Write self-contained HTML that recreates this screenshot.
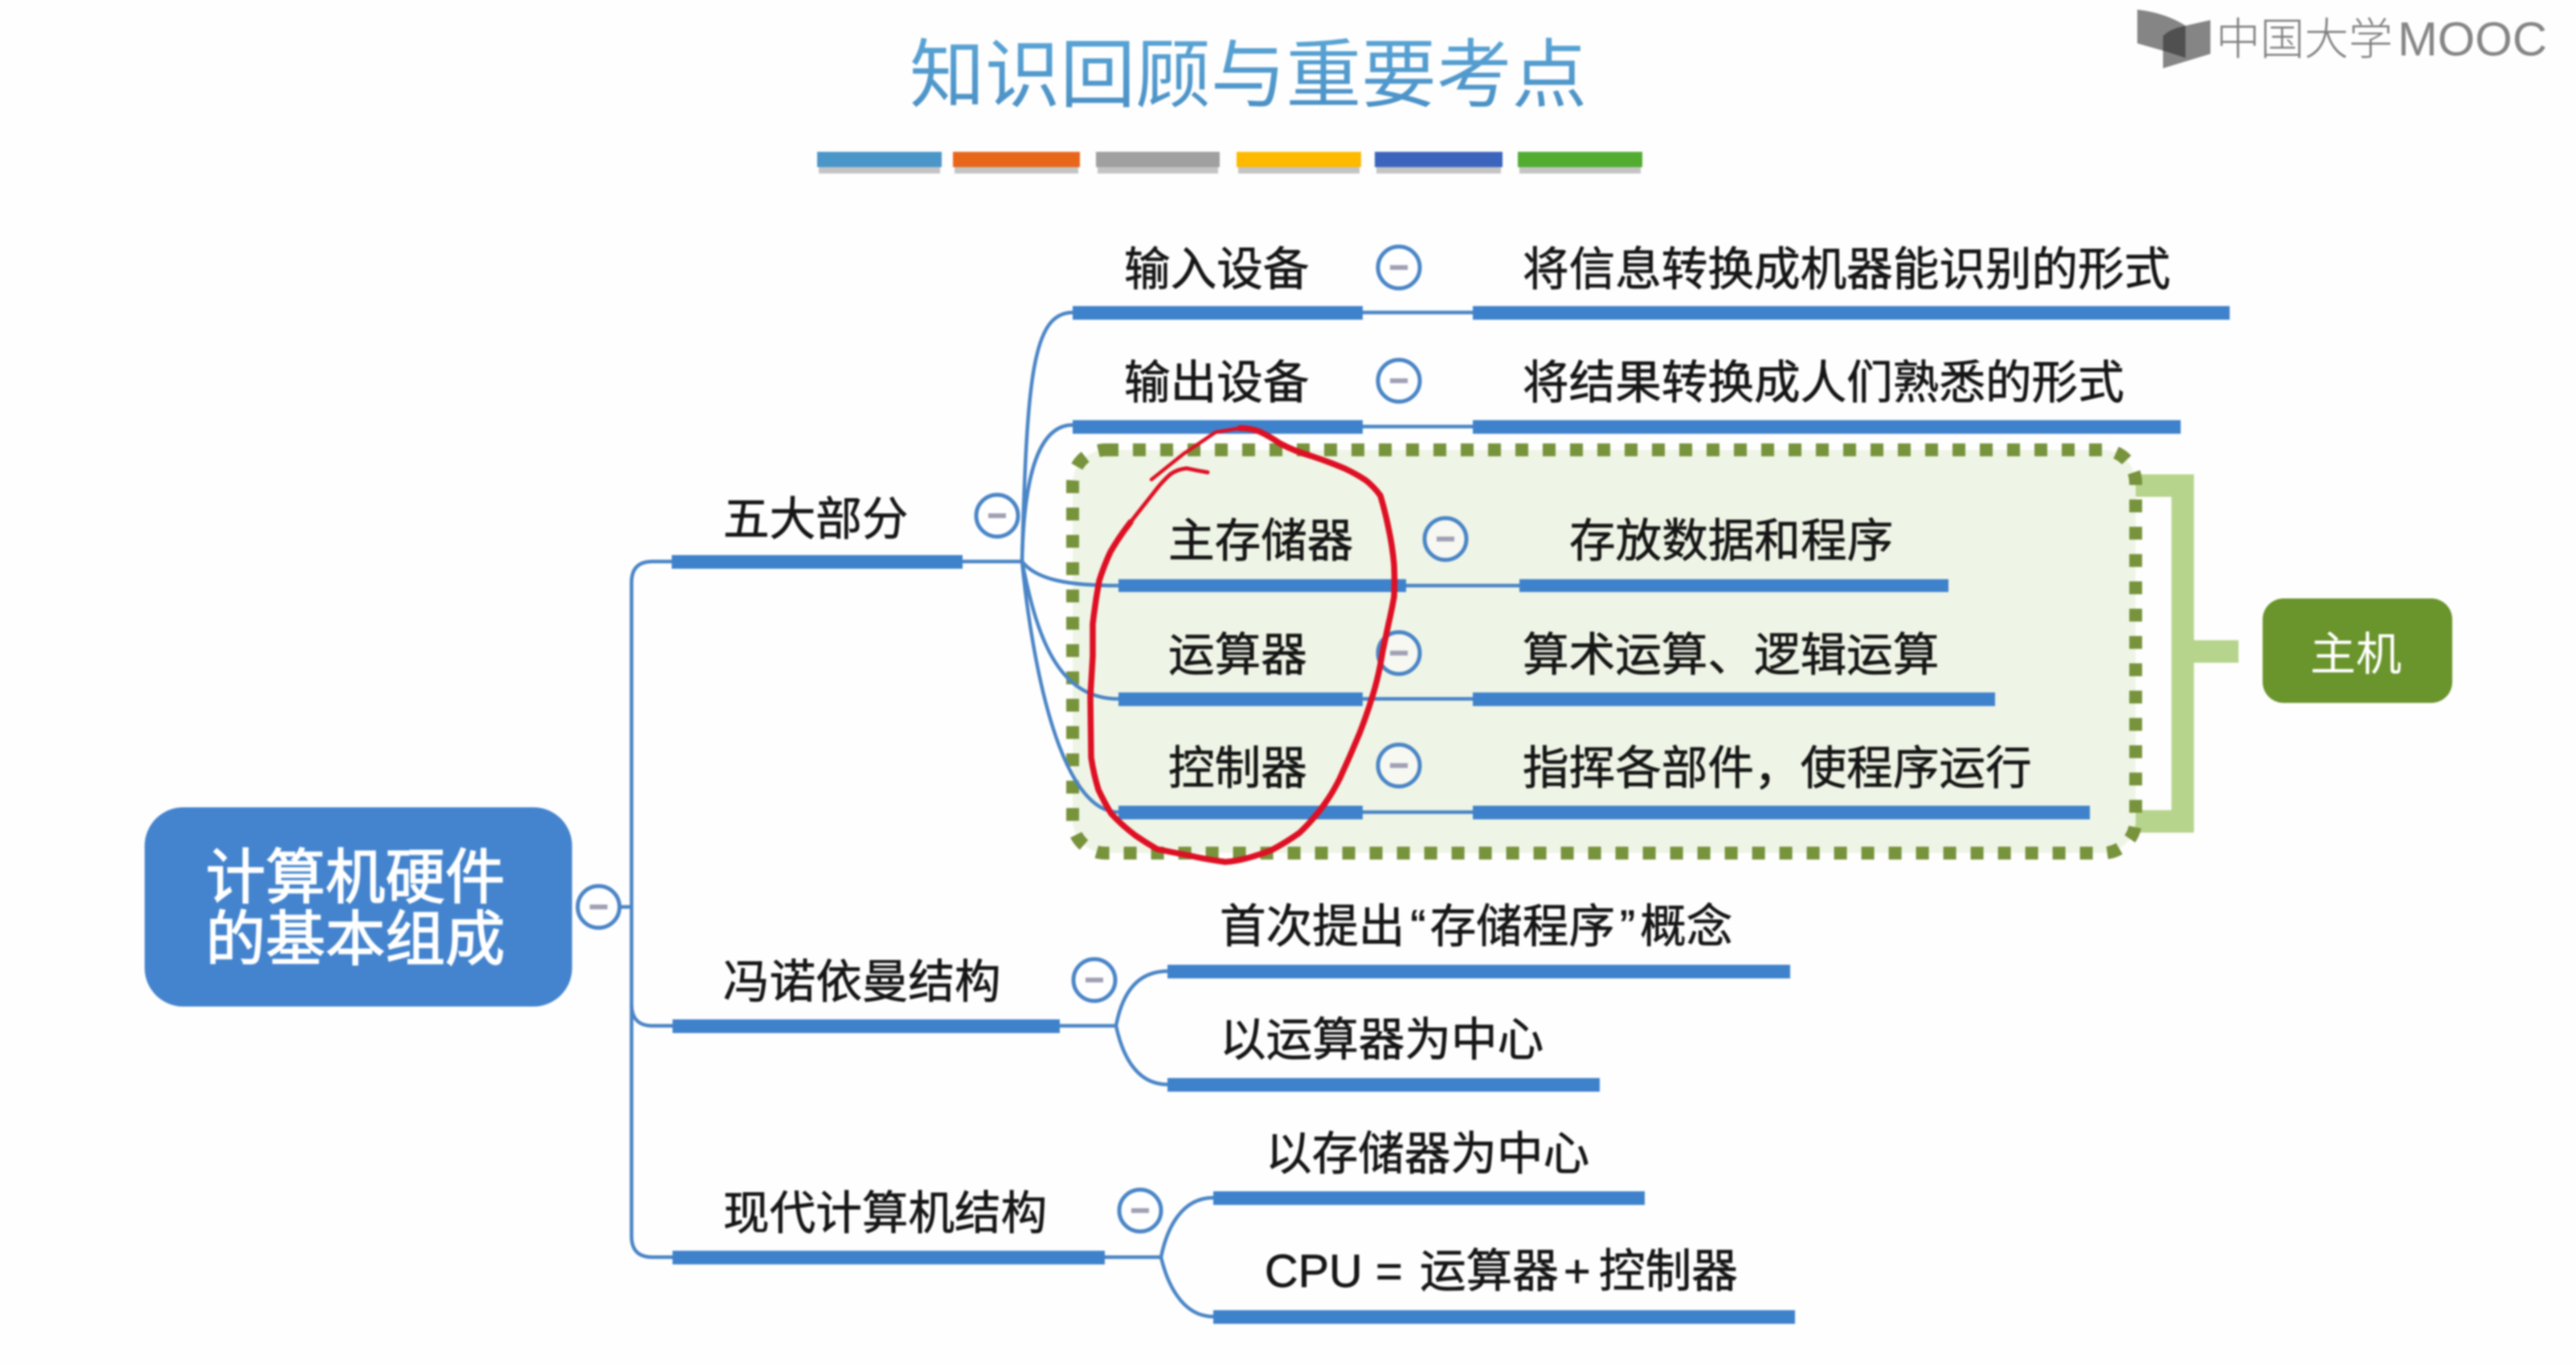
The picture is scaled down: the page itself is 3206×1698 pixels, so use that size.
<!DOCTYPE html>
<html lang="zh">
<head>
<meta charset="utf-8">
<title>知识回顾与重要考点</title>
<style>
html,body{margin:0;padding:0;background:#fefefe;width:3206px;height:1698px;overflow:hidden}
svg{display:block;filter:blur(1.1px)}
text{font-family:"Liberation Sans","Noto Sans CJK SC",sans-serif}
.t{font-size:57.6px;fill:#161616;stroke:#161616;stroke-width:.7px}
.bar{fill:#3f82cc}
.c{fill:none;stroke:#4a85c6;stroke-width:4.5}
.b{fill:#fff;stroke:#4a85c6;stroke-width:5}
.b2{fill:#f6f8f1;stroke:#4a85c6;stroke-width:5}
.m{fill:#a0a0b6}
</style>
</head>
<body>
<svg width="3206" height="1698" viewBox="0 0 3206 1698" xmlns="http://www.w3.org/2000/svg">
<defs>
<linearGradient id="tg" x1="0" y1="0" x2="0" y2="1"><stop offset="0" stop-color="#5aa5d6"/><stop offset="1" stop-color="#4a8fc4"/></linearGradient>
</defs>
<rect width="3206" height="1698" fill="#fefefe"/>

<!-- title -->
<text x="1132" y="126" font-size="93.7" fill="url(#tg)">知识回顾与重要考点</text>
<g fill="#c4c4c4">
<rect x="1019" y="204" width="151" height="12"/><rect x="1188" y="204" width="154" height="12"/><rect x="1366" y="204" width="150" height="12"/><rect x="1541" y="204" width="151" height="12"/><rect x="1713" y="204" width="155" height="12"/><rect x="1891" y="204" width="151" height="12"/>
</g>
<rect x="1017" y="189" width="155" height="19" fill="#4a96c9"/>
<rect x="1186" y="189" width="158" height="19" fill="#e8661a"/>
<rect x="1364" y="189" width="154" height="19" fill="#a0a0a0"/>
<rect x="1539" y="189" width="155" height="19" fill="#fdba00"/>
<rect x="1711" y="189" width="159" height="19" fill="#3b65bd"/>
<rect x="1889" y="189" width="155" height="19" fill="#52ac30"/>

<!-- logo -->
<path d="M2660 12 Q2695 16 2720 32 L2720 72 L2692 63 L2660 54 Z" fill="#858585"/>
<path d="M2751 25 L2720 32 Q2700 36 2692 45 L2692 85 L2751 67 Z" fill="#858585"/>
<path d="M2720 32 Q2700 36 2692 45 L2692 63 L2720 72 Z" fill="#505050"/>
<text x="2758" y="68" font-size="55" font-weight="300" fill="#808080">中国大学</text>
<text x="2984" y="69" font-size="59" fill="#858585" style="font-family:'Liberation Sans',sans-serif" textLength="186" lengthAdjust="spacingAndGlyphs">MOOC</text>

<!-- green group -->
<path d="M2649 604.5 H2716.5 V1022.5 H2649 M2716.5 811 H2786" fill="none" stroke="#b6d48c" stroke-width="28"/>
<rect x="1335" y="560" width="1323" height="502" rx="41" ry="41" fill="#eff5e6" stroke="#77933c" stroke-width="16" stroke-dasharray="16 18"/>
<rect x="2816" y="745" width="236" height="130" rx="26" ry="26" fill="#6a942c"/>
<text x="2875" y="834" font-size="57" fill="#fff">主机</text>

<!-- connectors -->
<path class="c" d="M745 1129 H786"/>
<path class="c" d="M836 699 H812 Q786 699 786 725 V1539 Q786 1565 812 1565 H837"/>
<path class="c" d="M786 1250 Q786 1277 812 1277 H837"/>
<path class="c" d="M1198 699 H1272"/>
<path class="c" d="M1272 699 C1278 470 1285 389 1335 389"/>
<path class="c" d="M1272 699 C1274 600 1290 529 1335 529"/>
<path class="c" d="M1272 699 C1290 722 1330 729 1392 729"/>
<path class="c" d="M1272 699 C1290 790 1315 870 1392 870"/>
<path class="c" d="M1272 699 C1285 830 1320 1011 1392 1011"/>
<path class="c" d="M1696 389 H1833 M1696 531 H1833 M1750 729 H1891 M1696 870 H1833 M1696 1011 H1833"/>
<path class="c" d="M1319 1277 H1389"/>
<path class="c" d="M1453 1209 C1410 1209 1395 1245 1389 1277 C1395 1305 1410 1350 1453 1350"/>
<path class="c" d="M1375 1565 H1445"/>
<path class="c" d="M1510 1491 C1470 1491 1452 1530 1445 1565 C1452 1595 1470 1639 1510 1639"/>

<!-- bars -->
<rect class="bar" x="1335" y="381" width="361" height="17"/><rect class="bar" x="1833" y="381" width="942" height="17"/>
<rect class="bar" x="1335" y="523" width="361" height="17"/><rect class="bar" x="1833" y="523" width="881" height="17"/>
<rect class="bar" x="1392" y="721" width="358" height="16"/><rect class="bar" x="1891" y="721" width="534" height="16"/>
<rect class="bar" x="1392" y="862" width="304" height="17"/><rect class="bar" x="1833" y="862" width="650" height="17"/>
<rect class="bar" x="1392" y="1003" width="304" height="17"/><rect class="bar" x="1833" y="1003" width="768" height="17"/>
<rect class="bar" x="836" y="691" width="362" height="17"/>
<rect class="bar" x="837" y="1269" width="482" height="17"/>
<rect class="bar" x="837" y="1557" width="538" height="17"/>
<rect class="bar" x="1453" y="1201" width="775" height="17"/>
<rect class="bar" x="1453" y="1342" width="538" height="17"/>
<rect class="bar" x="1510" y="1483" width="537" height="17"/>
<rect class="bar" x="1510" y="1631" width="724" height="17"/>

<!-- root -->
<rect x="180" y="1005" width="532" height="248" rx="48" ry="48" fill="#4484ce"/>
<text x="256" y="1118" font-size="74.5" fill="#fff" stroke="#fff" stroke-width="1.5">计算机硬件</text>
<text x="256" y="1195" font-size="74.5" fill="#fff" stroke="#fff" stroke-width="1.5">的基本组成</text>

<!-- toggles -->
<circle class="b" cx="745" cy="1129" r="26"/><rect class="m" x="734" y="1126" width="22" height="6"/>
<circle class="b" cx="1241" cy="642" r="26"/><rect class="m" x="1230" y="639" width="22" height="6"/>
<circle class="b" cx="1362" cy="1220" r="26"/><rect class="m" x="1351" y="1217" width="22" height="6"/>
<circle class="b" cx="1419" cy="1507" r="26"/><rect class="m" x="1408" y="1504" width="22" height="6"/>
<circle class="b" cx="1741" cy="333" r="26"/><rect class="m" x="1730" y="330" width="22" height="6"/>
<circle class="b" cx="1741" cy="474" r="26"/><rect class="m" x="1730" y="471" width="22" height="6"/>
<circle class="b2" cx="1799" cy="671" r="26"/><rect class="m" x="1788" y="668" width="22" height="6"/>
<circle class="b2" cx="1741" cy="813" r="26"/><rect class="m" x="1730" y="810" width="22" height="6"/>
<circle class="b2" cx="1741" cy="953" r="26"/><rect class="m" x="1730" y="950" width="22" height="6"/>

<!-- labels -->
<text class="t" x="1399" y="355">输入设备</text>
<text class="t" x="1895" y="355">将信息转换成机器能识别的形式</text>
<text class="t" x="1399" y="496">输出设备</text>
<text class="t" x="1895" y="496">将结果转换成人们熟悉的形式</text>
<text class="t" x="1454" y="693">主存储器</text>
<text class="t" x="1953" y="693">存放数据和程序</text>
<text class="t" x="1454" y="835">运算器</text>
<text class="t" x="1895" y="835">算术运算、逻辑运算</text>
<text class="t" x="1454" y="976">控制器</text>
<text class="t" x="1895" y="976">指挥各部件，使程序运行</text>
<text class="t" x="900" y="666">五大部分</text>
<text class="t" x="900" y="1242">冯诺依曼结构</text>
<text class="t" x="900" y="1530">现代计算机结构</text>
<text class="t" x="1518" y="1173">首次提出<tspan dx="7">“</tspan><tspan dx="5">存储程序</tspan><tspan dx="6">”</tspan><tspan dx="6">概念</tspan></text>
<text class="t" x="1518" y="1314">以运算器为中心</text>
<text class="t" x="1575" y="1456">以存储器为中心</text>
<text class="t" x="1574" y="1602">CPU</text>
<text class="t" x="1712" y="1602">=</text>
<text class="t" x="1767" y="1602">运算器</text>
<text class="t" x="1946" y="1602">+</text>
<text class="t" x="1990" y="1602">控制器</text>

<!-- red annotation -->
<path d="M1433 597 L1473 565 L1513 538 L1543 533" fill="none" stroke="#de1024" stroke-width="4.5" stroke-linecap="round" stroke-linejoin="round"/>
<path d="M1543 533 Q1556 533 1567 537 Q1580 543 1593 552 Q1612 562 1633 568 Q1654 575 1673 583 Q1688 590 1700 598 Q1710 606 1718 617 Q1724 637 1728 657 Q1733 680 1735 703 Q1736 724 1735 743 Q1732 760 1728 777 L1721 810 L1718 827 Q1714 848 1708 867 Q1701 890 1692 913 Q1680 942 1667 970 Q1658 988 1647 1003 Q1633 1022 1617 1037 Q1600 1049 1583 1058 Q1568 1064 1553 1068 Q1539 1072 1525 1073 Q1502 1070 1480 1065 Q1459 1061 1440 1057 Q1426 1049 1413 1040 Q1397 1028 1383 1013 Q1374 998 1367 983 Q1361 963 1358 943 L1357 867 L1360 817 L1360 777 Q1363 750 1368 723 Q1374 704 1382 687 Q1393 668 1407 650" fill="none" stroke="#de1024" stroke-width="7.5" stroke-linecap="round" stroke-linejoin="round"/>
<path d="M1407 650 L1440 608 Q1448 598 1457 590 Q1466 584 1477 583 Q1490 586 1503 588" fill="none" stroke="#de1024" stroke-width="5" stroke-linecap="round" stroke-linejoin="round"/>
</svg>
</body>
</html>
